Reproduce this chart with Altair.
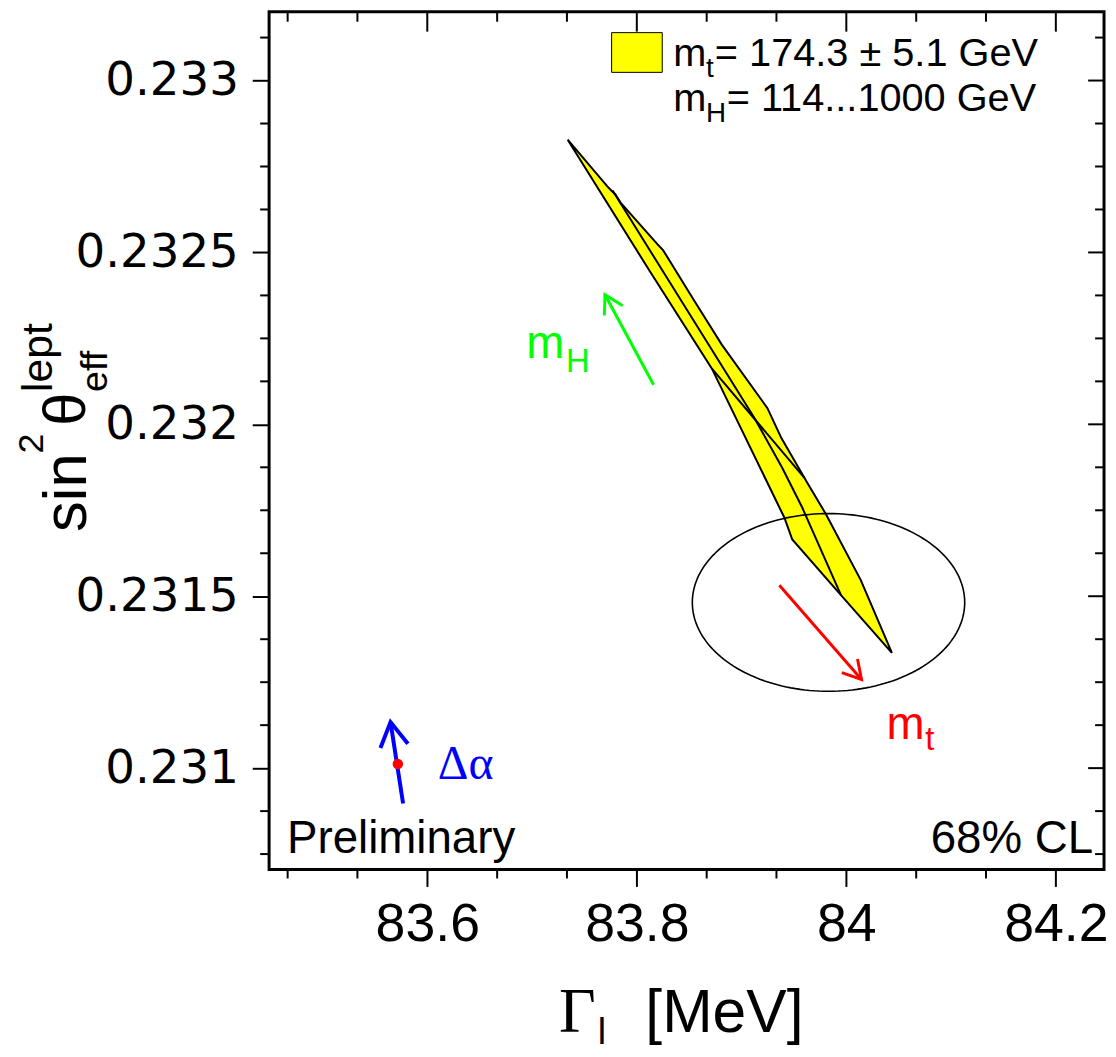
import math
import altair as alt
import pandas as pd

# ---------------- axes ----------------
x_domain = [83.449, 84.246]
y_domain = [0.230705, 0.2332]
x_major = [83.6, 83.8, 84.0, 84.2]
x_minor = [83.4667, 83.5333, 83.6667, 83.7333, 83.8667, 83.9333, 84.0667, 84.1333]
y_major = [0.231, 0.2315, 0.232, 0.2325, 0.233]
y_minor = [0.23075, 0.230875, 0.231125, 0.23125, 0.231375, 0.231625, 0.23175,
           0.231875, 0.232125, 0.23225, 0.232375, 0.232625, 0.23275, 0.232875, 0.233125]

# ---------------- SM band (mt = 174.3 +- 5.1 GeV, mH = 114...1000 GeV) ----------------
band_x = [83.7340, 83.7731, 83.7797, 83.7845, 83.8196, 83.8252, 83.8556, 83.8811,
          83.9247, 83.9380, 83.9627, 83.9807, 84.0138, 84.0435, 83.9949, 83.9484,
          83.9408, 83.8717, 83.8129, 83.7340]
band_y = [0.232828, 0.232688, 0.232668, 0.232645, 0.232524, 0.232506, 0.232356, 0.232232,
          0.232047, 0.231960, 0.231830, 0.231738, 0.231547, 0.231335, 0.231503, 0.231665,
          0.231729, 0.232162, 0.232443, 0.232828]
mid_x = [83.7769, 83.8432, 83.9124, 83.9389, 83.9579, 83.9759, 83.9949]
mid_y = [0.232680, 0.232356, 0.232018, 0.231873, 0.231758, 0.231634, 0.231503]
cross_x = [83.8717, 83.9598]
cross_y = [0.232162, 0.231845]

# ---------------- 68% CL measurement ellipse ----------------
ell_cx = 83.9830
ell_cy = 0.231482
ell_a = 0.1300
ell_b = 0.0002585

# ---------------- arrows ----------------
arrow_name = ["mH", "mt", "dalpha"]
arrow_x0 = [83.8160, 83.9361, 83.5769]
arrow_y0 = [0.232115, 0.231532, 0.230897]
arrow_x1 = [83.7696, 84.0145, 83.5649]
arrow_y1 = [0.232377, 0.231258, 0.231134]
arrow_color = ["#00ff00", "#ff0000", "#0000ff"]
arrow_width = [3, 3, 4]
arrow_head = [1764, 1764, 3136]
dot_x = [83.5719]
dot_y = [0.231012]

W, H = 841, 864
OX, OY = 271, 8   # plot origin on the page

xs = alt.Scale(domain=x_domain, nice=False, zero=False)
ys = alt.Scale(domain=y_domain, nice=False, zero=False)
xa = alt.Axis(values=x_major, format=".1~f", tickSize=17, tickWidth=2, tickColor="black",
              domain=False, grid=False, labelFont="Liberation Sans", labelFontSize=54,
              labelColor="black", labelPadding=11, labelFlush=False, labelOverlap=False,
              title=None)
ya = alt.Axis(values=y_major, format=".4~f", tickSize=17, tickWidth=2, tickColor="black",
              domain=False, grid=False, labelFont="DejaVu Sans", labelFontSize=47,
              labelColor="black", labelPadding=14, labelFlush=False, labelOverlap=False,
              title=None)


def X(f):
    return alt.X(f, type="quantitative", scale=xs, axis=xa)


def Y(f):
    return alt.Y(f, type="quantitative", scale=ys, axis=ya)


band_df = pd.DataFrame({"x": band_x, "y": band_y, "i": range(len(band_x))})
band = alt.Chart(band_df).mark_line(fill="#ffff00", stroke="black", strokeWidth=2,
                                    strokeJoin="miter").encode(
    x=X("x"), y=Y("y"), order="i:Q")

inner_df = pd.DataFrame({
    "x": mid_x + cross_x,
    "y": mid_y + cross_y,
    "seg": ["mid"] * len(mid_x) + ["cross"] * len(cross_x),
    "i": list(range(len(mid_x))) + list(range(len(cross_x))),
})
inner = alt.Chart(inner_df).mark_line(color="black", strokeWidth=2).encode(
    x=X("x"), y=Y("y"), detail="seg:N", order="i:Q")

ellipse = alt.Chart(alt.sequence(0, 362, 2, as_="t")).transform_calculate(
    ex=f"{ell_cx} + {ell_a} * cos(datum.t * PI / 180)",
    ey=f"{ell_cy} + {ell_b} * sin(datum.t * PI / 180)",
).mark_line(color="black", strokeWidth=1.6).encode(x=X("ex"), y=Y("ey"), order="t:Q")

# arrow angles in screen space (derived from the data and the chart's scale factors)
kx = W / (x_domain[1] - x_domain[0])
ky = H / (y_domain[1] - y_domain[0])
angles = []
for a0, b0, a1, b1 in zip(arrow_x0, arrow_y0, arrow_x1, arrow_y1):
    dxp = (a1 - a0) * kx
    dyp = -(b1 - b0) * ky
    angles.append(math.degrees(math.atan2(dxp, -dyp)) % 360)

arr_df = pd.DataFrame({"name": arrow_name, "x0": arrow_x0, "y0": arrow_y0,
                       "x1": arrow_x1, "y1": arrow_y1, "c": arrow_color,
                       "w": arrow_width, "s": arrow_head, "ang": angles})
shafts = alt.Chart(arr_df).mark_rule().encode(
    x=X("x0"), y=Y("y0"), x2="x1:Q", y2="y1:Q",
    color=alt.Color("c:N", scale=None), strokeWidth=alt.StrokeWidth("w:Q", scale=None))
heads = alt.Chart(arr_df).mark_point(shape="M -0.5 0.866 L 0 0 L 0.5 0.866", filled=False,
                                     opacity=1, strokeJoin="miter").encode(
    x=X("x1"), y=Y("y1"),
    color=alt.Color("c:N", scale=None), strokeWidth=alt.StrokeWidth("w:Q", scale=None),
    size=alt.Size("s:Q", scale=None), angle=alt.Angle("ang:Q", scale=None))
dot = alt.Chart(pd.DataFrame({"x": dot_x, "y": dot_y})).mark_circle(
    color="#ff0000", size=110, opacity=1).encode(x=X("x"), y=Y("y"))

# ---------------- extra ticks (minor, and mirrored inside on top/right) ----------------
xmin_df = pd.DataFrame({"x": x_minor})
xmaj_df = pd.DataFrame({"x": x_major})
ymin_df = pd.DataFrame({"y": y_minor})
ymaj_df = pd.DataFrame({"y": y_major})
tk = dict(color="black", strokeWidth=2)
ticks = [
    alt.Chart(xmin_df).mark_rule(**tk).encode(x=X("x"), y=alt.value(H), y2=alt.value(H + 9)),
    alt.Chart(xmin_df).mark_rule(**tk).encode(x=X("x"), y=alt.value(0), y2=alt.value(10)),
    alt.Chart(xmaj_df).mark_rule(**tk).encode(x=X("x"), y=alt.value(0), y2=alt.value(20)),
    alt.Chart(ymin_df).mark_rule(**tk).encode(y=Y("y"), x=alt.value(0), x2=alt.value(-9)),
    alt.Chart(ymin_df).mark_rule(**tk).encode(y=Y("y"), x=alt.value(W), x2=alt.value(W - 9)),
    alt.Chart(ymaj_df).mark_rule(**tk).encode(y=Y("y"), x=alt.value(W), x2=alt.value(W - 16)),
]

one = pd.DataFrame({"a": [0]})


def label(text, px, py, size, font="Liberation Sans", color="black", align="left",
          angle=0, style="normal"):
    return alt.Chart(one).mark_text(
        align=align, baseline="alphabetic", font=font, fontSize=size, color=color,
        angle=angle, fontStyle=style).encode(
        x=alt.value(px - OX), y=alt.value(py - OY), text=alt.value(text))


legend_box = alt.Chart(one).mark_rect(fill="#ffff00", stroke="black", strokeWidth=1).encode(
    x=alt.value(616 - OX), x2=alt.value(667 - OX), y=alt.value(29 - OY), y2=alt.value(69 - OY))

texts = [
    # legend
    label("m", 678, 63, 40), label("t", 711, 74, 28), label("= 174.3 ± 5.1 GeV", 720, 63, 40),
    label("m", 678, 108, 40), label("H", 711, 119, 28), label("= 114...1000 GeV", 732, 108, 40),
    # arrow labels
    label("m", 530, 357, 46, color="#00ff00"), label("H", 570, 371, 33, color="#00ff00"),
    label("m", 893, 740, 46, color="#ff0000"), label("t", 932, 752, 33, color="#ff0000"),
    label("Δα", 441, 781, 48, font="Liberation Serif", color="#0000ff"),
    # corner notes
    label("Preliminary", 289, 855, 46),
    label("68% CL", 1101, 855, 46, align="right"),
    # y title: sin^2 theta_eff^lept
    label("sin", 87, 532, 62, angle=270),
    label("2", 43, 453, 36, angle=270),
    label("θ", 86, 425, 60, angle=270),
    label("eff", 108, 391, 38, angle=270),
    label("lept", 52, 391, 43, angle=270),
    # x title: Gamma_l [MeV]
    label("Γ", 563, 1036, 64, font="Liberation Serif"),
    label("l", 602, 1048, 38),
    label("[MeV]", 650, 1036, 61),
]

chart = alt.layer(
    band, inner, ellipse, shafts, heads, dot, legend_box, *ticks, *texts
).properties(
    width=W, height=H,
    autosize=alt.AutoSizeParams(type="none"),
    padding={"left": 263, "top": 0, "right": 4, "bottom": 185},
    background="white",
).configure_view(stroke="black", strokeWidth=3)

chart.save("out.html", embed_options={"renderer": "svg", "actions": False})
